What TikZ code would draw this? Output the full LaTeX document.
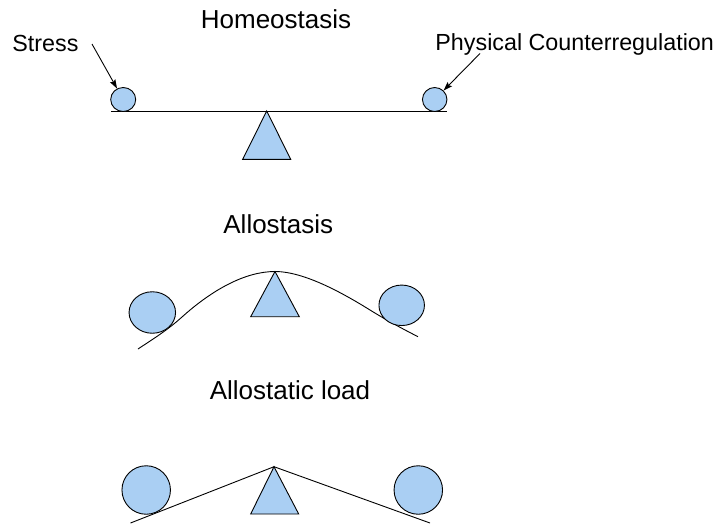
\documentclass[tikz,border=0pt]{standalone}
\usepackage{fontspec}
\setmainfont{Liberation Sans}
\usetikzlibrary{shapes.geometric,arrows.meta,positioning}
\definecolor{ballblue}{RGB}{170,207,243}
\tikzset{
  ball/.style={ellipse, draw, fill=ballblue, inner sep=0pt},
  heading/.style={anchor=base, inner sep=0pt, font=\fontsize{26}{30}\selectfont},
  tag/.style={anchor=base west, inner sep=0pt, font=\fontsize{23.3}{28}\selectfont},
  pointer/.style={-{Stealth[length=9pt,width=6pt,inset=1.5pt]}},
  pivot/.style={draw, fill=ballblue}
}

\begin{document}
\begin{tikzpicture}[x=1pt, y=-1pt, line width=0.9pt]
    \useasboundingbox (0,0) rectangle (726,523);

    % Homeostasis
    \node [heading] (homeo) at (276,28.3) {Homeostasis};
    \node [tag] (stress) at (12,51) {Stress};
    \node [tag] (counter) at (435,50) {Physical Counterregulation};
    \draw (111,111) -- (447,111);
    \draw [pivot] (266.7,111) -- (290.7,159.3) -- (242.7,159.3) -- cycle;
    \node [ball, minimum width=25pt, minimum height=24pt] (stressBall) at (123.2,99.5) {};
    \node [ball, minimum width=24.5pt, minimum height=24pt] (counterBall) at (434.7,99.5) {};
    \coordinate (stressFrom) at (92,44);
    \coordinate (counterFrom) at (480,53.5);
    \draw [pointer] (stressFrom) -- (stressBall);
    \draw [pointer] (counterFrom) -- (counterBall);

    % Allostasis
    \node [heading] (allo) at (278.3,233.3) {Allostasis};
    \draw (138,349) .. controls (153,339) and (167,330.5) .. (182,317)
        .. controls (212,290) and (245,271.5) .. (275,271.5)
        .. controls (305,271.5) and (345,294.5) .. (370,310)
        .. controls (385,319.3) and (400,327.5) .. (418,336.7);
    \draw [pivot] (275,271.5) -- (299.3,316.7) -- (250.7,316.7) -- cycle;
    \node [ball, minimum width=46.5pt, minimum height=41.5pt] (alloLeft) at (152.3,312.5) {};
    \node [ball, minimum width=45.5pt, minimum height=40.5pt] (alloRight) at (401.7,305.3) {};

    % Allostatic load
    \node [heading] (load) at (290,399.3) {Allostatic load};
    \draw (130.5,523) -- (274,466.7) -- (430,523);
    \draw [pivot] (274,466.7) -- (298.7,514) -- (250.7,514) -- cycle;
    \node [ball, circle, minimum size=48.5pt] (loadLeft) at (146.2,490) {};
    \node [ball, circle, minimum size=48.5pt] (loadRight) at (418.3,490) {};
\end{tikzpicture}
\end{document}
